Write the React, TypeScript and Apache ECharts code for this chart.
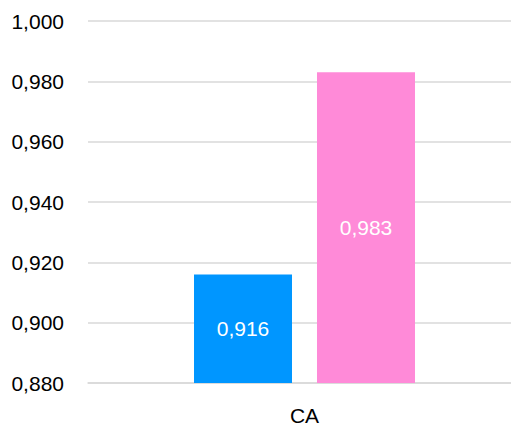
import React, { useEffect, useRef } from "react";
import * as echarts from "echarts";

const categories = ["CA"];
const seriesA = [0.916];
const seriesB = [0.983];
const yMin = 0.88;
const yMax = 1.0;
const yInterval = 0.02;

const fmt = (v: number) => v.toFixed(3).replace(".", ",");

export default function App() {
  const ref = useRef<HTMLDivElement>(null);
  useEffect(() => {
    document.body.style.margin = "0";
    const chart = echarts.init(ref.current!, undefined, { renderer: "svg" });
    const font = "Liberation Sans, Arial, sans-serif";
    chart.setOption({
      animation: false,
      grid: { left: 88, right: 0, top: 21, bottom: 45 },
      xAxis: {
        type: "category",
        data: categories,
        axisLine: { show: true, lineStyle: { color: "#d9d9d9", width: 1.5 } },
        axisTick: { show: false },
        axisLabel: { color: "#000", fontSize: 21, fontFamily: font, margin: 22 },
      },
      yAxis: {
        type: "value",
        min: yMin,
        max: yMax,
        interval: yInterval,
        axisLine: { show: false },
        axisTick: { show: false },
        splitLine: { lineStyle: { color: "#d9d9d9", width: 1.5 } },
        axisLabel: {
          color: "#000",
          fontSize: 21,
          fontFamily: font,
          margin: 24,
          formatter: (v: number) => fmt(v),
        },
      },
      series: [
        {
          type: "bar",
          data: seriesA,
          barWidth: 98,
          barGap: "25.5%",
          itemStyle: { color: "#0096ff" },
          label: {
            show: true,
            position: "inside",
            color: "#fff",
            fontSize: 21,
            fontFamily: font,
            formatter: (p: any) => fmt(p.value),
          },
        },
        {
          type: "bar",
          data: seriesB,
          barWidth: 98,
          barGap: "25.5%",
          itemStyle: { color: "#ff8ad8" },
          label: {
            show: true,
            position: "inside",
            color: "#fff",
            fontSize: 21,
            fontFamily: font,
            formatter: (p: any) => fmt(p.value),
          },
        },
      ],
    });
    return () => chart.dispose();
  }, []);
  return (
    <div
      style={{
        position: "absolute",
        left: 0,
        top: 0,
        width: 511,
        height: 428,
        overflow: "hidden",
      }}
    >
      <div ref={ref} style={{ width: 521, height: 428 }} />
    </div>
  );
}
